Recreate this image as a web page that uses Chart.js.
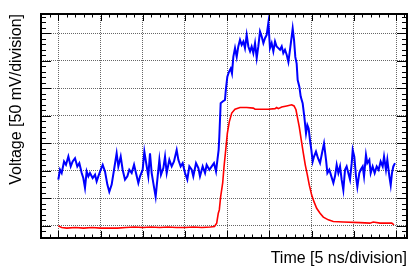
<!DOCTYPE html>
<html>
<head>
<meta charset="utf-8">
<script src="https://cdn.jsdelivr.net/npm/chart.js@4"></script>
<style>
  body { margin: 0; background: #fff; }
  canvas { display: block; }
</style>
</head>
<body>
<canvas id="chart" width="415" height="271"></canvas>
<script>
// blue trace (time in ns, voltage in mV)
var blueT = [0.00, 0.20, 0.40, 0.68, 0.91, 1.19, 1.47, 1.70, 1.98, 2.25, 2.49, 2.77, 2.96, 3.16, 3.36, 3.56, 3.75, 4.07, 4.35, 4.54,
    4.74, 5.02, 5.26, 5.53, 5.81, 6.04, 6.32, 6.60, 6.91, 7.11, 7.39, 7.62, 7.90, 8.18, 8.41, 8.69, 8.97, 9.20, 9.48, 9.68,
    9.99, 10.19, 10.47, 10.66, 10.86, 11.06, 11.33, 11.53, 11.73, 11.97, 12.16, 12.44, 12.64, 12.84, 13.15, 13.43, 13.70, 14.02, 14.22, 14.49,
    14.73, 15.01, 15.28, 15.52, 15.80, 15.99, 16.31, 16.59, 16.78, 17.10, 17.38, 17.57, 17.89, 18.17, 18.44, 18.68, 18.99, 19.07, 19.23, 19.47,
    19.74, 19.86, 20.02, 20.22, 20.42, 20.57, 20.73, 20.93, 21.13, 21.32, 21.52, 21.72, 21.92, 22.11, 22.31, 22.51, 22.71, 22.90, 23.10, 23.30,
    23.50, 23.69, 23.89, 24.09, 24.29, 24.48, 24.68, 24.88, 25.07, 25.27, 25.47, 25.67, 25.86, 26.06, 26.26, 26.46, 26.65, 26.85, 27.05, 27.25,
    27.44, 27.64, 27.76, 27.92, 28.07, 28.23, 28.35, 28.55, 28.71, 28.94, 29.14, 29.34, 29.50, 29.65, 29.81, 29.97, 30.13, 30.29, 30.52, 30.76,
    31.00, 31.23, 31.47, 31.71, 31.87, 32.10, 32.34, 32.58, 32.77, 32.97, 33.17, 33.37, 33.56, 33.76, 33.96, 34.15, 34.35, 34.55, 34.75, 34.87,
    35.06, 35.26, 35.42, 35.65, 35.81, 36.05, 36.21, 36.44, 36.60, 36.84, 37.00, 37.23, 37.47, 37.71, 37.94, 38.18, 38.42, 38.58, 38.81, 38.97,
    39.21, 39.37, 39.52, 39.68, 39.88];
var blueV = [84, 102, 96, 117, 111, 126, 108, 117, 123, 108, 114, 96, 87, 69, 99, 90, 96, 87, 93, 81,
    90, 102, 111, 99, 75, 62, 75, 102, 132, 108, 126, 102, 84, 90, 102, 96, 111, 96, 78, 90,
    102, 135, 108, 90, 132, 96, 71, 53, 84, 120, 93, 105, 126, 96, 120, 108, 117, 138, 120, 108,
    114, 96, 84, 108, 102, 90, 114, 105, 90, 108, 96, 111, 102, 108, 114, 99, 138, 162, 223, 226,
    229, 250, 271, 280, 286, 277, 307, 323, 307, 326, 338, 329, 335, 323, 347, 326, 317, 326, 314, 332,
    305, 326, 353, 344, 332, 341, 347, 369, 323, 332, 317, 335, 326, 323, 320, 326, 314, 320, 311, 298,
    320, 344, 359, 338, 307, 295, 265, 253, 235, 223, 198, 168, 183, 177, 156, 138, 117, 126, 135, 123,
    114, 132, 150, 120, 96, 102, 90, 78, 90, 111, 96, 108, 84, 65, 102, 108, 96, 84, 114, 138,
    126, 90, 71, 96, 102, 108, 90, 129, 114, 120, 96, 108, 96, 108, 102, 117, 108, 126, 102, 120,
    90, 74, 96, 108, 114];

// red trace
var redT = [0, 0.4, 1, 2, 3, 4, 5, 6, 7, 8, 9, 10, 11, 12, 13, 14, 15, 16, 17, 18, 18.5,
    18.76, 18.95, 19.07, 19.23, 19.47, 19.63, 19.83, 20.02, 20.25, 20.54, 20.93, 21.52, 22.31, 23.10, 23.30, 23.89, 24.87, 25.67, 25.86,
    26.06, 26.46, 27.05, 27.64, 27.92, 28.15, 28.31, 28.54, 28.78, 29.02, 29.25, 29.49, 29.73, 30.01, 30.28, 30.60, 31.00, 31.39, 31.98, 32.57,
    33.76, 35.73, 36.9, 37.3, 38.1, 39.5, 39.76];
var redV = [0, -3, -4, -3, -4, -3, -4, -4, -4, -3, -2, -3, -2, -3, -2, -3, -3, -2, -3, -2, -1,
    5, 23, 29, 53, 78, 108, 138, 168, 189, 205, 212, 215, 215, 214, 212, 212, 212, 213, 215,
    213, 216, 218, 220, 218, 211, 198, 180, 156, 132, 111, 93, 74, 56, 44, 32, 23, 16, 11, 8,
    7, 6, 5, 7, 5, 5, 2];

var xMin = -2.05, xMax = 41.3;
var yMin = -22, yMax = 385;

function pairs(xs, ys) {
    var out = [];
    for (var i = 0; i < xs.length; i++) out.push({x: xs[i], y: ys[i]});
    return out;
}

// frame and inward ticks like a ROOT canvas
var frameTicks = {
    id: 'frameTicks',
    afterDraw: function(chart) {
        var c = chart.ctx, a = chart.chartArea;
        var xs = chart.scales.x, ys = chart.scales.y;
        c.save();
        c.strokeStyle = '#000';
        c.lineWidth = 1;
        c.beginPath();
        for (var t = Math.ceil(xMin); t <= xMax; t++) {
            var px = Math.round(xs.getPixelForValue(t)) + 0.5;
            var len = (t % 5 === 0) ? 7 : 3.5;
            c.moveTo(px, a.bottom); c.lineTo(px, a.bottom - len);
            c.moveTo(px, a.top); c.lineTo(px, a.top + len);
        }
        for (var v = -20; v <= yMax; v += 10) {
            var py = Math.round(ys.getPixelForValue(v)) + 0.5;
            var l2 = (v % 50 === 0) ? 10 : 5;
            c.moveTo(a.left, py); c.lineTo(a.left + l2, py);
            c.moveTo(a.right, py); c.lineTo(a.right - l2, py);
        }
        c.stroke();
        c.lineWidth = 2;
        c.strokeRect(a.left, a.top, a.right - a.left, a.bottom - a.top);
        c.restore();
    }
};

var ctx = document.getElementById('chart').getContext('2d');
var chart = new Chart(ctx, {
    type: 'line',
    data: {
        datasets: [
            {
                label: 'blue',
                data: pairs(blueT, blueV),
                borderColor: '#0000ff',
                borderWidth: 2,
                pointRadius: 0,
                tension: 0
            },
            {
                label: 'red',
                data: pairs(redT, redV),
                borderColor: '#ff0000',
                borderWidth: 1.6,
                pointRadius: 0,
                tension: 0
            }
        ]
    },
    options: {
        responsive: false,
        animation: false,
        devicePixelRatio: 1,
        layout: { padding: { top: 14, right: 8, left: 0, bottom: 0 } },
        plugins: { legend: { display: false }, tooltip: { enabled: false } },
        scales: {
            x: {
                type: 'linear',
                min: xMin,
                max: xMax,
                ticks: { display: false, stepSize: 5, includeBounds: false },
                grid: { color: '#666', lineWidth: 1, drawTicks: false },
                border: { display: false, dash: [1, 1] },
                title: {
                    display: true,
                    text: 'Time [5 ns/division]',
                    align: 'end',
                    color: '#000',
                    font: { family: 'Liberation Sans, Arial, sans-serif', size: 16 },
                    padding: { top: 0, bottom: 3 }
                },
                afterFit: function(s) { s.height = 33; }
            },
            y: {
                min: yMin,
                max: yMax,
                ticks: { display: false, stepSize: 50, includeBounds: false },
                grid: { color: '#666', lineWidth: 1, drawTicks: false },
                border: { display: false, dash: [1, 1] },
                title: {
                    display: true,
                    text: 'Voltage [50 mV/division]',
                    align: 'end',
                    color: '#000',
                    font: { family: 'Liberation Sans, Arial, sans-serif', size: 16 },
                    padding: { top: 7, bottom: 0 }
                },
                afterFit: function(s) { s.width = 41; }
            }
        }
    },
    plugins: [frameTicks]
});
</script>
</body>
</html>
